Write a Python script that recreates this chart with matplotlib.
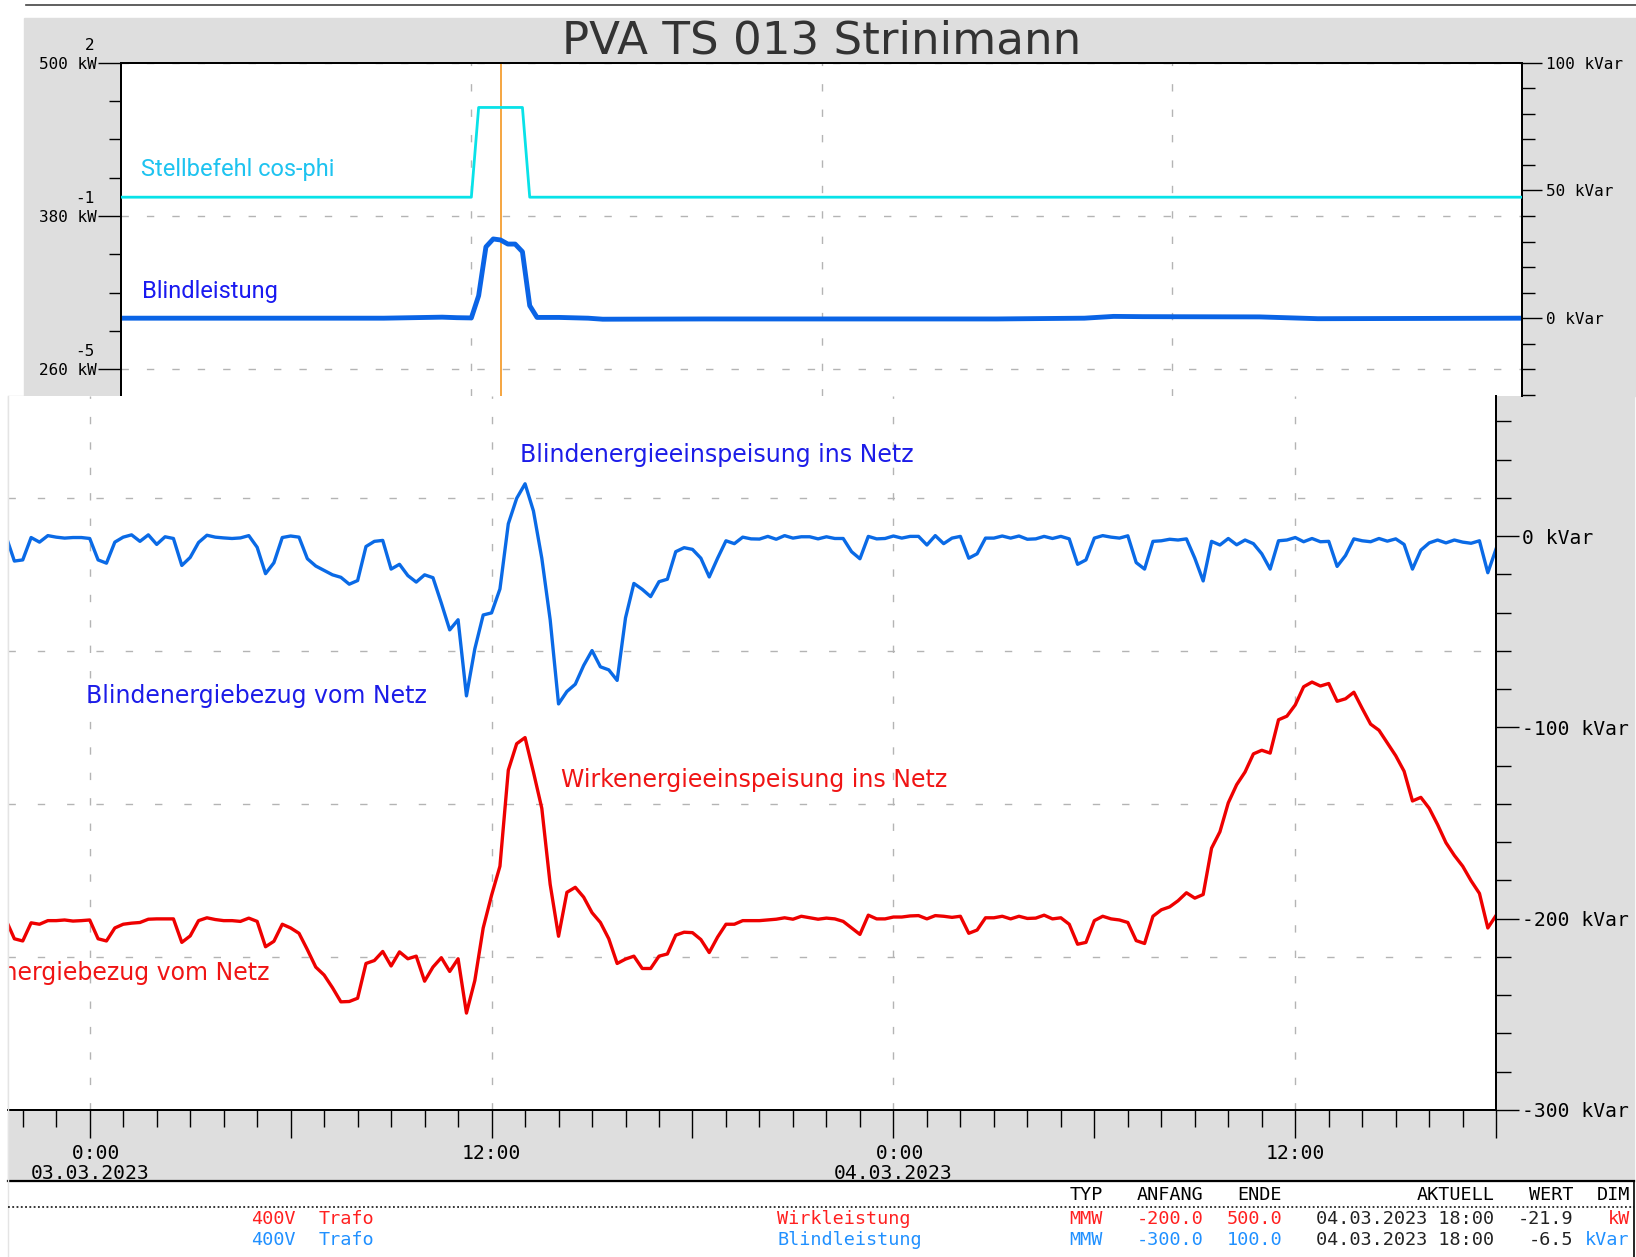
import numpy as np
import matplotlib.pyplot as plt
from matplotlib.patches import Rectangle
from matplotlib.lines import Line2D
import matplotlib.transforms as mtransforms

# ---- data -------------------------------------------------------------
# upper panel (hours since start of the window)
top_t = [0, 9, 11, 11.5, 12, 12.25, 12.5, 12.75, 13, 13.25, 13.5, 13.75, 14,
         14.25, 15, 16, 16.5, 20, 30, 33, 34, 35, 39, 41, 48]
top_blind = [0.0, 0.0, 0.4, 0.2, 0.1, 8.8, 27.9, 31.0, 30.6, 29.0, 29.0, 26.0, 4.9,
             0.3, 0.3, 0.0, -0.4, -0.3, -0.3, 0.0, 0.7, 0.6, 0.5, -0.2, 0.0]
cos_t = [0, 12, 12.25, 13.75, 14, 48]
cos_cmd = [1.0, 1.0, 0.9, 0.9, 1.0, 1.0]
marker_t = 13.0

# lower panel, 15-min values, hours since 03.03.2023 0:00
t = np.arange(-2.5, 42.01, 0.25)
blind = [
    0, -13, -12.4, -0.7, -3.1, 0.3, -0.5, -1.0, -0.7, -0.7,
    -1.2, -12.4, -14.1, -3.1, -0.5, 0.7, -2.7, 0.7,
    -4.3, -0.3, -1.2, -15.3, -11.1, -3.3, 0.5, -0.5,
    -0.9, -1.2, -0.9, 0.3, -5.8, -19.6, -13.9, -0.7,
    0.1, -0.5, -11.8, -15.6, -17.9, -20.2, -21.5, -25.1,
    -23.2, -5.4, -2.7, -2.2, -17.2, -14.7, -20.6, -24.0,
    -20.2, -21.7, -35.0, -49.0, -43.7, -83.5, -58.9, -41.2,
    -40.1, -27.6, 6.5, 19.8, 27.4, 13.2, -11.5, -43.7,
    -87.7, -81.2, -77.4, -67.6, -59.8, -68.3, -69.9, -75.4,
    -42.7, -24.7, -27.8, -31.6, -23.8, -22.5, -8.1, -6.0,
    -6.9, -11.5, -21.3, -11.5, -2.4, -3.9, -0.5, -1.4,
    -1.5, -0.1, -1.6, 0.3, -1.0, -0.3, -0.3, -1.4,
    -0.3, -1.2, -1.2, -8.1, -11.8, -0.1, -1.4, -1.2,
    0.1, -1.0, -0.1, -0.1, -4.6, 0.3, -3.9, -1.0,
    -0.1, -11.5, -9.2, -1.0, -1.0, 0.1, -1.0, 0.1,
    -1.6, -1.4, -0.1, -1.2, -0.1, -1.4, -14.7, -12.4,
    -1.0, 0.3, -0.5, -1.0, 0.2, -13.8, -17.2, -2.7,
    -2.4, -1.6, -2.0, -1.4, -11.5, -23.4, -2.7, -4.6,
    -1.2, -4.5, -2.0, -3.9, -9.2, -17.2, -2.4, -2.0,
    -0.7, -2.9, -1.2, -2.9, -2.7, -15.8, -10.1, -1.4,
    -2.4, -2.9, -1.2, -2.6, -1.4, -4.3, -17.2, -7.3,
    -3.5, -2.0, -3.5, -2.0, -3.1, -3.7, -2.4, -19.1,
    -6.5]
wirk = [
    -26.2, -43.4, -45.4, -28.8, -30.1, -26.8, -26.8, -26.2, -27.2, -26.8,
    -26.2, -43.4, -45.4, -33.5, -30.1, -29.1, -28.5, -25.5,
    -25.2, -25.2, -25.2, -46.7, -40.8, -26.8, -24.2, -25.8,
    -26.8, -26.8, -27.5, -24.5, -27.5, -50.7, -45.7, -30.1,
    -33.5, -38.4, -53.4, -69.3, -76.6, -88.2, -101.1, -100.8,
    -97.8, -66.0, -63.3, -55.0, -68.3, -55.4, -61.7, -59.3,
    -82.2, -69.3, -60.7, -73.3, -61.7, -111.4, -81.6, -33.5,
    -3.6, 23.0, 110.9, 135.1, 140.7, 109.2, 76.0, 6.4,
    -41.1, -0.9, 3.7, -5.3, -19.5, -28.5, -43.4, -66.0,
    -62.0, -59.3, -70.6, -70.6, -59.3, -57.3, -40.1, -37.4,
    -37.8, -44.1, -56.0, -41.8, -30.1, -30.1, -26.8, -26.8,
    -26.8, -26.2, -25.5, -24.2, -25.5, -22.8, -24.2, -25.5,
    -24.5, -25.2, -27.5, -33.5, -39.4, -21.8, -25.2, -25.2,
    -23.5, -23.5, -22.5, -22.2, -25.2, -22.2, -22.8, -23.8,
    -22.8, -38.4, -35.4, -24.2, -24.2, -22.8, -25.2, -22.8,
    -24.8, -24.5, -21.8, -25.2, -24.2, -30.1, -48.4, -46.7,
    -26.8, -22.8, -25.2, -26.2, -28.5, -45.1, -47.7, -22.8,
    -16.9, -14.2, -8.6, -1.3, -6.2, -2.9, 39.5, 54.5,
    81.0, 97.6, 109.2, 125.8, 129.1, 126.5, 157.0, 160.3,
    170.6, 187.2, 191.5, 187.9, 190.2, 173.9, 176.2, 182.2,
    167.3, 153.0, 147.4, 135.8, 124.1, 109.9, 82.7, 86.0,
    76.0, 61.1, 44.5, 32.9, 23.0, 9.7, -1.9, -33.5,
    -21.9]

x_major = [0, 6, 12, 18, 24, 30, 36, 42]
x_labels = [" 0:00\n03.03.2023", "", "12:00", "", " 0:00\n04.03.2023", "", "12:00", ""]
day_lines = [0, 12, 24, 36]
kvar_grid = [20, -60, -140, -220]

table_cols = ["TYP", "ANFANG", "ENDE", "AKTUELL", "WERT", "DIM"]
row_station = ["400V", "400V"]
row_device = ["Trafo", "Trafo"]
row_signal = ["Wirkleistung", "Blindleistung"]
row_type = ["MMW", "MMW"]
row_start = ["-200.0", "-300.0"]
row_end = ["500.0", "100.0"]
row_time = ["04.03.2023 18:00", "04.03.2023 18:00"]
row_value = ["-21.9", "-6.5"]
row_unit = ["kW", "kVar"]
row_color = ["#ff2020", "#2090ff"]

MONO = "DejaVu Sans Mono"
GRAY = "#dedede"
GRID = "#b4b4b4"

# reference pixel grid used for placing things
W, H = 1568, 1205


def fx(x):
    return x / W


def fy(y):
    return 1 - y / H


fig = plt.figure(figsize=(16.36, 12.57), dpi=100)

# backgrounds
fig.patches.append(Rectangle((fx(23), fy(380)), 1 - fx(23), fy(17) - fy(380),
                             transform=fig.transFigure, color=GRAY, zorder=-1))
fig.patches.append(Rectangle((fx(8), fy(1132)), fx(1566) - fx(8), fy(380) - fy(1132),
                             transform=fig.transFigure, color=GRAY, zorder=-1))
fig.lines.append(Line2D([fx(25), 1], [fy(5), fy(5)], transform=fig.transFigure,
                        color="#444444", lw=1.2))

fig.text(fx(787), fy(39), "PVA TS 013 Strinimann", ha="center", va="center",
         fontsize=32.5, color="#333333", family="DejaVu Sans")

# ---- upper panel ------------------------------------------------------
ax_top = fig.add_axes([fx(116), fy(380), fx(1459) - fx(116), fy(60) - fy(380)])
ax_q = ax_top.twinx()
ax_cos = ax_top.twinx()

ax_top.set_xlim(0, 48)
ax_top.set_ylim(238.8, 500)
ax_top.set_yticks([260, 380, 500])
ax_top.set_yticklabels(["260 kW", "380 kW", "500 kW"], family=MONO, fontsize=11.5)
ax_top.set_yticks(np.arange(260, 501, 30), minor=True)
ax_top.tick_params(axis="y", which="major", length=16.5, width=1.0, pad=1)
ax_top.tick_params(axis="y", which="minor", length=9, width=1.0)
ax_top.set_xticks([12, 24, 36])
ax_top.tick_params(axis="x", length=0, labelbottom=False)
ax_top.grid(True, color=GRID, ls=(0, (5.3, 13)), lw=1.0)

# cos-phi scale labels above the kW labels
cos_trans = mtransforms.offset_copy(
    mtransforms.blended_transform_factory(fig.transFigure, ax_top.transData),
    fig=fig, y=12.5, units="points")
for val, lab in zip([500, 380, 260], ["2", "-1", "-5"]):
    fig.text(fx(91), val, lab, transform=cos_trans, ha="right", va="center",
             family=MONO, fontsize=11.5)

ax_top.axvline(marker_t, color="#f5a540", lw=1.4)

ax_q.set_ylim(-30.6, 100)
ax_q.set_yticks([0, 50, 100])
ax_q.set_yticklabels(["0 kVar", "50 kVar", "100 kVar"], family=MONO, fontsize=11.5)
ax_q.set_yticks(np.arange(-30, 101, 10), minor=True)
ax_q.tick_params(axis="y", which="major", length=14.6, width=1.0, pad=2.5)
ax_q.tick_params(axis="y", which="minor", length=9, width=1.0)
ax_q.plot(top_t, top_blind, color="#0a64e6", lw=3.5, solid_joinstyle="round")
ax_q.text(0.68, 58, "Stellbefehl cos-phi", color="#1ec3f0", fontsize=17,
          family="Roboto", va="center")
ax_q.text(0.71, 10.6, "Blindleistung", color="#1a1af0", fontsize=17,
          family="Roboto", va="center")

ax_cos.set_ylim(1.222, 0.850)
ax_cos.plot(cos_t, cos_cmd, color="#08e2e8", lw=2.0)
ax_cos.yaxis.set_visible(False)

for a in (ax_top, ax_q, ax_cos):
    a.spines["bottom"].set_visible(False)
    for s in ("top", "left", "right"):
        a.spines[s].set_linewidth(1.4)
for s in ax_cos.spines.values():
    s.set_visible(False)

# ---- lower panel ------------------------------------------------------
ax_b = fig.add_axes([fx(8), fy(1064), fx(1434) - fx(8), fy(380) - fy(1064)])
ax_r = ax_b.twinx()

ax_b.set_xlim(-2.43, 42)
ax_b.set_ylim(-300, 73.1)
ax_r.set_ylim(-200, 452.9)

ax_b.yaxis.tick_right()
ax_b.set_yticks([-300, -200, -100, 0])
ax_b.set_yticklabels(["-300 kVar", "-200 kVar", "-100 kVar", "0 kVar"],
                     family=MONO, fontsize=14.2)
ax_b.set_yticks(np.arange(-300, 61, 20), minor=True)
ax_b.tick_params(axis="y", which="major", length=16.3, width=1.0, pad=2.5)
ax_b.tick_params(axis="y", which="minor", length=10.5, width=1.0)

ax_b.set_xticks(x_major)
ax_b.set_xticklabels(x_labels, family=MONO, fontsize=14.2, linespacing=1.05)
ax_b.set_xticks(np.arange(-2, 43, 1), minor=True)
ax_b.tick_params(axis="x", which="major", length=20.4, width=1.0, pad=4.5)
ax_b.tick_params(axis="x", which="minor", length=12.5, width=1.0)

for v in kvar_grid:
    ax_b.axhline(v, color=GRID, ls=(0, (5.3, 15.8)), lw=1.0, zorder=0.5)
for v in day_lines:
    ax_b.axvline(v, color=GRID, ls=(0, (5.3, 13)), lw=1.0, zorder=0.5)

ax_b.plot(t, blind, color="#0a6ae6", lw=2.4)
ax_r.plot(t, wirk, color="#ee0000", lw=2.4)

ax_b.text(12.84, 42.5, "Blindenergieeinspeisung ins Netz", color="#1c1ce8",
          fontsize=17, va="center")
ax_b.text(-0.12, -83.5, "Blindenergiebezug vom Netz", color="#1c1ce8",
          fontsize=17, va="center")
ax_r.text(14.06, 101.6, "Wirkenergieeinspeisung ins Netz", color="#f01414",
          fontsize=17, va="center")
# the left part of this label is cut off by the panel edge in the original
ax_r.text(5.36, -75.0, "Wirkenergiebezug vom Netz", color="#f01414",
          fontsize=17, va="center", ha="right", clip_on=True)

for a in (ax_b, ax_r):
    a.spines["left"].set_visible(False)
    a.spines["top"].set_visible(False)
    a.spines["right"].set_linewidth(1.4)
    a.spines["bottom"].set_linewidth(1.4)
ax_r.yaxis.set_visible(False)

# ---- table ------------------------------------------------------------
fig.lines.append(Line2D([fx(8), fx(1566)], [fy(1132), fy(1132)], transform=fig.transFigure,
                        color="black", lw=1.6))
fig.lines.append(Line2D([fx(1566), fx(1566)], [fy(1132), 0], transform=fig.transFigure,
                        color="black", lw=1.2))
fig.lines.append(Line2D([fx(8), fx(8)], [fy(380), 0], transform=fig.transFigure,
                        color="#e4e4e4", lw=1.0))
fig.lines.append(Line2D([fx(8), fx(1566)], [fy(1157), fy(1157)], transform=fig.transFigure,
                        color="black", lw=1.1, ls=(0, (1.2, 1.6))))

head_x = [1025, 1153, 1228, 1432, 1508, 1562]
head_ha = ["left", "right", "right", "right", "right", "right"]
for lab, x, ha in zip(table_cols, head_x, head_ha):
    fig.text(fx(x), fy(1146), lab, ha=ha, va="center", family=MONO, fontsize=13.3)

for i in range(2):
    y = fy(1169 + 20 * i)
    c = row_color[i]
    kw = dict(va="center", family=MONO, fontsize=13.3)
    fig.text(fx(283), y, row_station[i], ha="right", color=c, **kw)
    fig.text(fx(305), y, row_device[i], ha="left", color=c, **kw)
    fig.text(fx(745), y, row_signal[i], ha="left", color=c, **kw)
    fig.text(fx(1025), y, row_type[i], ha="left", color=c, **kw)
    fig.text(fx(1153), y, row_start[i], ha="right", color=c, **kw)
    fig.text(fx(1229), y, row_end[i], ha="right", color=c, **kw)
    fig.text(fx(1432), y, row_time[i], ha="right", color="#222222", **kw)
    fig.text(fx(1508), y, row_value[i], ha="right", color="#222222", **kw)
    fig.text(fx(1562), y, row_unit[i], ha="right", color=c, **kw)

fig.savefig("out.png", dpi=100)
